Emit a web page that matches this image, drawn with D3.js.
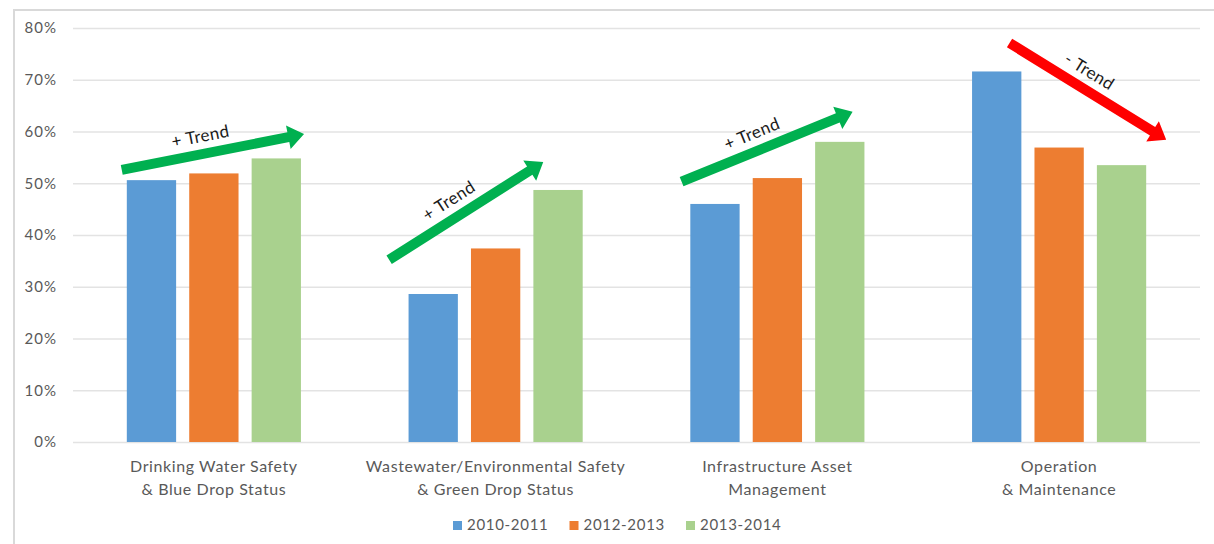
<!DOCTYPE html>
<html>
<head>
<meta charset="utf-8">
<script src="https://cdn.jsdelivr.net/npm/d3@7"></script>
<style>
  body { margin: 0; background: #fff; }
  svg { display: block; font-family: "Lato", "Open Sans", sans-serif; }
</style>
</head>
<body>
<div class="chart-div"></div>
<script>
'use strict';

var width = 1214;
var height = 544;

// data
var categories = [
    ["Drinking Water Safety", "& Blue Drop Status"],
    ["Wastewater/Environmental Safety", "& Green Drop Status"],
    ["Infrastructure Asset", "Management"],
    ["Operation", "& Maintenance"]
];
var seriesNames = ["2010-2011", "2012-2013", "2013-2014"];
var seriesColors = ["#5B9BD5", "#ED7D31", "#A9D18E"];
var values2010 = [50.6, 28.6, 46.0, 71.6];
var values2012 = [51.9, 37.4, 51.0, 56.9];
var values2013 = [54.8, 48.7, 58.0, 53.5];
var yTicks = [0, 10, 20, 30, 40, 50, 60, 70, 80];

// trend arrows: category index + offset (in bands), value in %
var trendLabels = ["+ Trend", "+ Trend", "+ Trend", "- Trend"];
var trendColors = ["#00B050", "#00B050", "#00B050", "#FF0000"];
var trendFrom = [[-0.327, 52.6], [-0.378, 35.2], [-0.34, 50.3], [-0.176, 77.1]];
var trendTo = [[0.32, 59.5], [0.169, 54.1], [0.267, 63.8], [0.38, 58.4]];

var allSeries = [values2010, values2012, values2013];

var plot = {left: 73, right: 1200, top: 28, bottom: 442};

function main() {
    var svg = d3.select(".chart-div").append("svg")
        .attr("width", width)
        .attr("height", height);

    // chart frame (top and left edges visible)
    svg.append("path")
        .attr("d", "M14,544 L14,10 L1214,10")
        .attr("fill", "none")
        .attr("stroke", "#d9d9d9")
        .attr("stroke-width", 2);

    var y = d3.scaleLinear().domain([0, 80]).range([plot.bottom, plot.top]);
    var x0 = d3.scaleBand()
        .domain(d3.range(categories.length))
        .range([plot.left, plot.right])
        .paddingInner(0.382)
        .paddingOuter(0.191);
    var x1 = d3.scaleBand()
        .domain(d3.range(seriesNames.length))
        .range([0, x0.bandwidth()])
        .paddingInner(0.21);
    var step = x0.step();

    // gridlines + y labels
    var yAxis = d3.axisLeft(y)
        .tickValues(yTicks)
        .tickFormat(d => d + "%")
        .tickSize(-(plot.right - plot.left))
        .tickPadding(16);
    var yg = svg.append("g")
        .attr("transform", "translate(" + plot.left + ",0)")
        .call(yAxis);
    yg.select(".domain").remove();
    yg.selectAll("line").attr("stroke", "#e3e3e3").attr("stroke-width", 1.5);
    yg.selectAll("text")
        .attr("fill", "#595959")
        .attr("font-size", "15px")
        .attr("letter-spacing", "1px")
        .attr("font-family", "Lato, sans-serif");

    // bars
    var groups = svg.selectAll(".grp")
        .data(categories)
        .enter().append("g")
        .attr("class", "grp")
        .attr("transform", (d, i) => "translate(" + x0(i) + ",0)");

    groups.selectAll("rect")
        .data((d, i) => allSeries.map((s, k) => ({k: k, v: s[i]})))
        .enter().append("rect")
        .attr("x", d => x1(d.k))
        .attr("width", x1.bandwidth())
        .attr("y", d => y(d.v))
        .attr("height", d => y(0) - y(d.v))
        .attr("fill", d => seriesColors[d.k]);

    // category labels
    groups.each(function (lines, i) {
        var t = d3.select(this).append("text")
            .attr("text-anchor", "middle")
            .attr("fill", "#595959")
            .attr("font-size", "16px")
            .attr("letter-spacing", "0.6px");
        lines.forEach((ln, j) => {
            t.append("tspan")
                .attr("x", x0.bandwidth() / 2)
                .attr("y", 472 + j * 23)
                .text(ln);
        });
    });

    // trend arrows
    var cx = (i, off) => x0(i) + x0.bandwidth() / 2 + off * step;
    trendLabels.forEach((lab, i) => {
        var xa = cx(i, trendFrom[i][0]), ya = y(trendFrom[i][1]);
        var xb = cx(i, trendTo[i][0]), yb = y(trendTo[i][1]);
        var dx = xb - xa, dy = yb - ya;
        var len = Math.sqrt(dx * dx + dy * dy);
        var ang = Math.atan2(dy, dx) * 180 / Math.PI;
        var sw = 5, hl = 16, hw = 12;
        var g = svg.append("g")
            .attr("transform", "translate(" + xa + "," + ya + ") rotate(" + ang + ")");
        g.append("path")
            .attr("d", "M0," + (-sw) + " L" + (len - hl) + "," + (-sw) +
                " L" + (len - hl) + "," + (-hw) + " L" + len + ",0 L" + (len - hl) + "," + hw +
                " L" + (len - hl) + "," + sw + " L0," + sw + " Z")
            .attr("fill", trendColors[i]);
        g.append("text")
            .attr("x", len * 0.45)
            .attr("y", -12)
            .attr("text-anchor", "middle")
            .attr("fill", "#1a1a1a")
            .attr("font-size", "17px")
            .attr("letter-spacing", "0.4px")
            .text(lab);
    });

    // legend
    var legend = svg.append("g").attr("transform", "translate(453,526)");
    seriesNames.forEach((nm, k) => {
        var lg = legend.append("g").attr("transform", "translate(" + (k * 116.5) + ",0)");
        lg.append("rect")
            .attr("x", 0).attr("y", -5)
            .attr("width", 9).attr("height", 9)
            .attr("fill", seriesColors[k]);
        lg.append("text")
            .attr("x", 14).attr("y", 0)
            .attr("dominant-baseline", "middle")
            .attr("fill", "#595959")
            .attr("font-size", "15px")
            .attr("letter-spacing", "0.7px")
            .text(nm);
    });
}

main();
</script>
</body>
</html>
